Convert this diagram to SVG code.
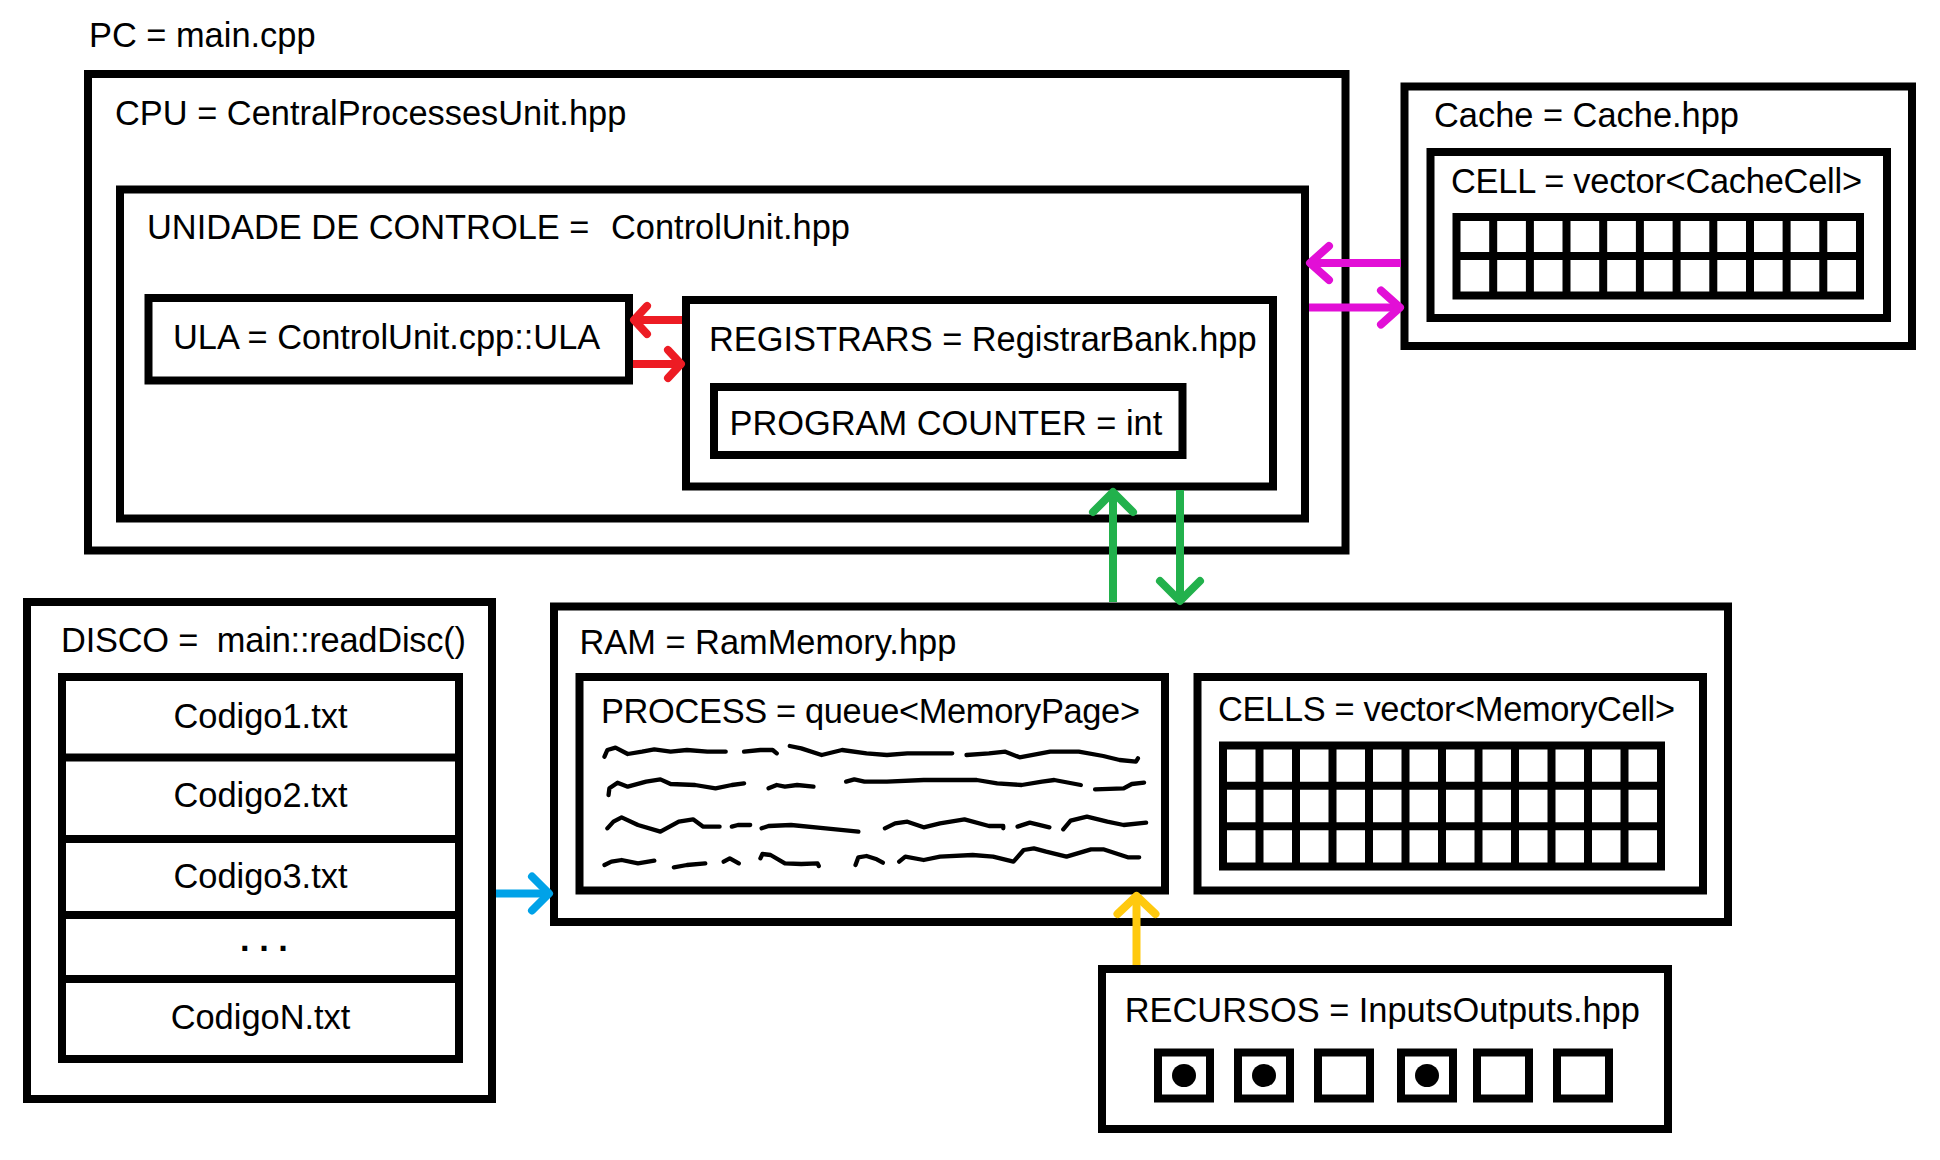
<svg xmlns="http://www.w3.org/2000/svg" width="1940" height="1160" viewBox="0 0 1940 1160">
<style>
  .box { fill: none; stroke: #000; stroke-width: 8; }
  .grid { fill: none; stroke: #000; stroke-width: 8; }
  .t { font-family: "Liberation Sans", Arial, sans-serif; font-size: 34.4px; fill: #000; }
  .c { text-anchor: middle; }
  .arr { fill: none; stroke-width: 8; stroke-linecap: butt; }
  .head { fill: none; stroke-width: 8; stroke-linecap: round; stroke-linejoin: round; }
  .sq { fill: none; stroke: #000; stroke-width: 4.3; stroke-linecap: round; stroke-linejoin: round; }
</style>
<defs>
  <marker id="hRed" markerUnits="userSpaceOnUse" orient="auto" refX="0" refY="0" markerWidth="40" markerHeight="40" style="overflow:visible"><path class="head" stroke="#ED1C24" d="M-13,-14 L0,0 L-13,14"/></marker>
  <marker id="hMag" markerUnits="userSpaceOnUse" orient="auto" refX="0" refY="0" markerWidth="40" markerHeight="40" style="overflow:visible"><path class="head" stroke="#E20FD6" d="M-19,-17 L0,0 L-19,17"/></marker>
  <marker id="hGrn" markerUnits="userSpaceOnUse" orient="auto" refX="0" refY="0" markerWidth="40" markerHeight="40" style="overflow:visible"><path class="head" stroke="#22B14C" d="M-20,-20 L0,0 L-20,20"/></marker>
  <marker id="hBlu" markerUnits="userSpaceOnUse" orient="auto" refX="0" refY="0" markerWidth="40" markerHeight="40" style="overflow:visible"><path class="head" stroke="#00A2E8" d="M-17,-17 L0,0 L-17,17"/></marker>
  <marker id="hYel" markerUnits="userSpaceOnUse" orient="auto" refX="0" refY="0" markerWidth="40" markerHeight="40" style="overflow:visible"><path class="head" stroke="#FFC90E" d="M-18,-19 L0,0 L-18,19"/></marker>
</defs>
<rect width="1940" height="1160" fill="#fff"/>

<g id="pc">
  <text class="t" x="89" y="47">PC = main.cpp</text>
</g>

<g id="cpu">
  <rect class="box" x="88" y="74" width="1257.5" height="476.5"/>
  <text class="t" x="115" y="125">CPU = CentralProcessesUnit.hpp</text>
</g>

<g id="control-unit">
  <rect class="box" x="120" y="189.5" width="1185" height="329"/>
  <text class="t" x="147" y="239" xml:space="preserve">UNIDADE DE CONTROLE =  <tspan x="611">ControlUnit.hpp</tspan></text>
</g>

<g id="ula">
  <rect class="box" x="148.5" y="298" width="480.5" height="82.5"/>
  <text class="t" x="173" y="349">ULA = ControlUnit.cpp::ULA</text>
</g>

<g id="registrars">
  <rect class="box" x="686" y="300" width="587" height="186.5"/>
  <text class="t" x="709" y="351">REGISTRARS = RegistrarBank.hpp</text>
</g>

<g id="program-counter">
  <rect class="box" x="714" y="387" width="468.5" height="68"/>
  <text class="t" x="729.5" y="435">PROGRAM COUNTER = int</text>
</g>

<g id="cache">
  <rect class="box" x="1404.5" y="86.5" width="507.5" height="259.5"/>
  <text class="t" x="1434" y="127">Cache = Cache.hpp</text>
</g>

<g id="cache-cell">
  <rect class="box" x="1430.5" y="152" width="456.5" height="166"/>
  <text class="t" x="1451" y="193" textLength="411" lengthAdjust="spacing">CELL = vector&lt;CacheCell&gt;</text>
  <rect class="grid" x="1456.5" y="217" width="403.5" height="78.5"/>
  <path class="grid" d="M1456.5,256 H1860 M1493.2,217 V295.5 M1529.9,217 V295.5 M1566.5,217 V295.5 M1603.2,217 V295.5 M1639.9,217 V295.5 M1676.6,217 V295.5 M1713.3,217 V295.5 M1750,217 V295.5 M1786.6,217 V295.5 M1823.3,217 V295.5"/>
</g>

<g id="disco">
  <rect class="box" x="27" y="602" width="465" height="497"/>
  <text class="t" x="61" y="652" xml:space="preserve" textLength="405" lengthAdjust="spacing">DISCO =  main::readDisc()</text>
  <rect class="box" x="62" y="677" width="397" height="382"/>
  <path class="box" d="M62,757.5 H459 M62,839 H459 M62,915 H459 M62,979 H459"/>
  <text class="t c" x="260.5" y="728">Codigo1.txt</text>
  <text class="t c" x="260.5" y="807">Codigo2.txt</text>
  <text class="t c" x="260.5" y="888">Codigo3.txt</text>
  <text class="t c" x="264" y="951" font-weight="bold">. . .</text>
  <text class="t c" x="260.5" y="1029">CodigoN.txt</text>
</g>

<g id="ram">
  <rect class="box" x="554" y="606.5" width="1174" height="315.5"/>
  <text class="t" x="579.5" y="654">RAM = RamMemory.hpp</text>
</g>

<g id="process">
  <rect class="box" x="579.5" y="677" width="585.5" height="213.5"/>
  <text class="t" x="601" y="722.7" textLength="539" lengthAdjust="spacing">PROCESS = queue&lt;MemoryPage&gt;</text>
  <g transform="translate(540 580) scale(0.40816 0.33333)">
    <path class="sq" vector-effect="non-scaling-stroke" d="M158,530 L165,510 L185,503 L215,522 L250,515 L280,508 L320,515 L360,510 L410,515 L455,515 M500,515 L540,510 L570,510 L580,520 M612,498 L640,505 L690,525 L740,510 L800,520 L850,525 L900,520 L950,520 L1010,520 M1045,525 L1100,520 L1140,515 L1175,532 L1250,515 L1320,515 L1380,528 L1420,540 L1460,545 L1465,535"/>
    <path class="sq" vector-effect="non-scaling-stroke" d="M168,645 L170,625 L190,608 L215,620 L260,605 L295,598 L320,612 L380,615 L430,625 L470,615 L500,610 M560,625 L580,615 L600,620 L630,615 L670,620 M750,605 L770,598 L795,605 L850,605 L940,600 L1070,600 L1120,610 L1180,615 L1230,605 L1260,600 L1325,615 M1360,628 L1430,625 L1450,612 L1480,608"/>
    <path class="sq" vector-effect="non-scaling-stroke" d="M165,745 L180,725 L200,712 L240,735 L295,755 L340,725 L375,718 L400,740 L440,740 M470,740 L485,735 L515,735 M543,745 L560,738 L615,735 L700,745 L780,755 M845,745 L870,730 L900,725 L940,742 L980,730 L1040,718 L1100,738 L1135,738 L1135,745 M1170,740 L1200,728 L1248,742 M1282,748 L1300,722 L1340,710 L1390,725 L1430,735 L1485,728"/>
    <path class="sq" vector-effect="non-scaling-stroke" d="M158,855 L175,845 L200,840 L240,850 L280,842 M328,862 L360,855 L405,850 M450,845 L465,835 L487,850 M540,835 L545,822 L565,825 L600,850 L640,852 L680,850 L683,858 M773,855 L780,832 L800,828 L825,838 L840,848 M880,845 L895,830 L940,840 L980,830 L1060,825 L1110,830 L1160,845 L1185,810 L1210,805 L1240,815 L1290,830 L1350,808 L1380,808 L1440,832 L1468,832"/>
  </g>
</g>

<g id="cells">
  <rect class="box" x="1197.5" y="677" width="505.5" height="213.5"/>
  <text class="t" x="1218" y="720.7" textLength="457" lengthAdjust="spacing">CELLS = vector&lt;MemoryCell&gt;</text>
  <rect class="grid" x="1223" y="745.5" width="438" height="121"/>
  <path class="grid" d="M1223,785.8 H1661 M1223,826.2 H1661 M1259.5,745.5 V866.5 M1296,745.5 V866.5 M1332.5,745.5 V866.5 M1369,745.5 V866.5 M1405.5,745.5 V866.5 M1442,745.5 V866.5 M1478.5,745.5 V866.5 M1515,745.5 V866.5 M1551.5,745.5 V866.5 M1588,745.5 V866.5 M1624.5,745.5 V866.5"/>
</g>

<g id="recursos">
  <rect class="box" x="1102" y="969" width="566" height="160"/>
  <text class="t" x="1124.7" y="1021.7">RECURSOS = InputsOutputs.hpp</text>
  <rect class="box" x="1158" y="1052.5" width="52" height="46"/>
  <rect class="box" x="1238" y="1052.5" width="52" height="46"/>
  <rect class="box" x="1318" y="1052.5" width="52" height="46"/>
  <rect class="box" x="1401" y="1052.5" width="52" height="46"/>
  <rect class="box" x="1477" y="1052.5" width="52" height="46"/>
  <rect class="box" x="1557" y="1052.5" width="52" height="46"/>
  <ellipse cx="1184" cy="1075.5" rx="12" ry="11.5" fill="#000"/>
  <ellipse cx="1264" cy="1075.5" rx="12" ry="11.5" fill="#000"/>
  <ellipse cx="1427" cy="1075.5" rx="12" ry="11.5" fill="#000"/>
</g>

<g id="connectors">
  <path class="arr" stroke="#ED1C24" d="M682,320 H634" marker-end="url(#hRed)"/>
  <path class="arr" stroke="#ED1C24" d="M633,364 H681" marker-end="url(#hRed)"/>
  <path class="arr" stroke="#E20FD6" d="M1401,263 H1310" marker-end="url(#hMag)"/>
  <path class="arr" stroke="#E20FD6" d="M1309,307.5 H1400" marker-end="url(#hMag)"/>
  <path class="arr" stroke="#22B14C" d="M1113,602 V492" marker-end="url(#hGrn)"/>
  <path class="arr" stroke="#22B14C" d="M1180,490 V601" marker-end="url(#hGrn)"/>
  <path class="arr" stroke="#00A2E8" d="M496,893.5 H549" marker-end="url(#hBlu)"/>
  <path class="arr" stroke="#FFC90E" d="M1136.5,965 V896" marker-end="url(#hYel)"/>
</g>
</svg>
